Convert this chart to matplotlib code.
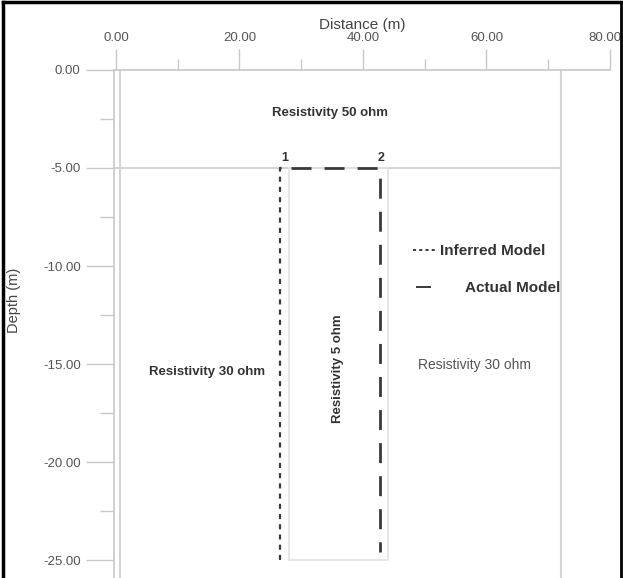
import matplotlib
matplotlib.use("Agg")
import matplotlib.pyplot as plt
from matplotlib.lines import Line2D
from matplotlib.transforms import ScaledTranslation

plt.rcParams['font.family'] = ['Liberation Sans', 'DejaVu Sans']

# ---- data ----
x_ticks = [0, 20, 40, 60, 80]
x_tick_labels = ["0.00", "20.00", "40.00", "60.00", "80.00"]
y_ticks = [0, -5, -10, -15, -20, -25]
y_tick_labels = ["0.00", "-5.00", "-10.00", "-15.00", "-20.00", "-25.00"]

inferred_x = [26.6, 26.6, 27.6]
inferred_depth = [-25.0, -5.0, -5.0]
actual_x = [28.4, 42.8, 42.8]
actual_depth = [-5.0, -5.0, -24.6]

block_x = [28.0, 44.0, 44.0, 28.0, 28.0]
block_depth = [-5.0, -5.0, -25.0, -25.0, -5.0]

layer_line_x = [-0.3, 72.0]
layer_line_depth = [-5.0, -5.0]
model_left_x = [0.6, 0.6]
model_right_x = [72.0, 72.0]
model_edge_depth = [0.0, -26.0]

labels = [
    ("Resistivity 50 ohm", 34.7, -2.2, 0, "bold", "#333333", 9.5),
    ("Resistivity 30 ohm", 14.7, -15.4, 0, "bold", "#333333", 9.5),
    ("Resistivity 30 ohm", 58.1, -15.05, 0, "normal", "#555555", 10),
    ("Resistivity 5 ohm", 36.0, -15.25, 90, "bold", "#333333", 9.5),
    ("1", 27.4, -4.5, 0, "bold", "#333333", 9),
    ("2", 42.9, -4.5, 0, "bold", "#333333", 9),
]

W, H = 623, 578
fig = plt.figure(figsize=(W / 100, H / 100), dpi=100)
fig.patch.set_facecolor("white")
AX_L, AX_R, AX_T = 114, 610, 70
ax = fig.add_axes([AX_L / W, 0.0, (AX_R - AX_L) / W, 1 - AX_T / H])

ax.set_xlim(-0.32, 80)
ax.set_ylim(-(H - AX_T) / 19.6, 0)

grid_col = "#d4d4d4"
ax.plot(model_left_x, model_edge_depth, color=grid_col, lw=1.5, zorder=1)
ax.plot(model_right_x, model_edge_depth, color=grid_col, lw=1.5, zorder=1)
ax.plot(layer_line_x, layer_line_depth, color=grid_col, lw=1.5, zorder=1)
ax.plot(block_x, block_depth, color="#e2e2e2", lw=1.2, zorder=1)

inf_line, = ax.plot(inferred_x, inferred_depth, color="#3a3a3a", lw=1.6,
                    dashes=(2.3, 2.3), zorder=3, label="Inferred Model")
act_line, = ax.plot(actual_x, actual_depth, color="#3a3a3a", lw=2.0,
                    dashes=(7.2, 4.7), zorder=3, label="Actual Model")

for txt, x, y, rot, wt, col, fs in labels:
    ax.text(x, y, txt, rotation=rot, fontsize=fs, fontweight=wt, color=col,
            ha="center", va="center", zorder=4)


def ax_frac(px, py):
    return ((px - AX_L) / (AX_R - AX_L), 1 - (py - AX_T) / (H - AX_T))


leg1 = ax.legend(handles=[inf_line], loc="center left",
                 bbox_to_anchor=ax_frac(413, 251),
                 frameon=False, fontsize=11, handlelength=1.6,
                 handletextpad=0.15, borderpad=0, borderaxespad=0)
ax.add_artist(leg1)
leg2 = ax.legend(handles=[act_line], loc="center left",
                 bbox_to_anchor=ax_frac(416, 288),
                 frameon=False, fontsize=11, handlelength=1.0,
                 handletextpad=2.2, borderpad=0, borderaxespad=0)
for lg in (leg1, leg2):
    for t in lg.get_texts():
        t.set_fontweight("bold")
        t.set_color("#333333")
leg1.legend_handles[0].set_dashes((1.6, 1.6))
leg1.legend_handles[0].set_linewidth(1.4)
leg2.legend_handles[0].set_dashes((1, 0))
leg2.legend_handles[0].set_linewidth(1.4)

ax.xaxis.tick_top()
ax.xaxis.set_label_position("top")
ax.set_xticks(x_ticks)
ax.set_xticklabels(x_tick_labels)
ax.set_xticks([10, 30, 50, 70], minor=True)
ax.set_yticks(y_ticks)
ax.set_yticklabels(y_tick_labels)
ax.set_yticks([-2.5, -7.5, -12.5, -17.5, -22.5], minor=True)

tick_col = "#c8c8c8"
ax.tick_params(axis="x", which="major", length=15, width=1, color=tick_col,
               labelsize=9.5, labelcolor="#555555", pad=4)
ax.tick_params(axis="x", which="minor", length=8, width=1, color=tick_col)
ax.tick_params(axis="y", which="major", length=20, width=1, color=tick_col,
               labelsize=9.5, labelcolor="#555555", pad=4)
ax.tick_params(axis="y", which="minor", length=10, width=1, color=tick_col)

# keep the last top tick label inside the frame
last_tick = ax.xaxis.get_major_ticks()[-1]
last_tick.label2.set_transform(last_tick.label2.get_transform()
                               + ScaledTranslation(-4 / 72, 0, fig.dpi_scale_trans))

for s in ["right", "bottom"]:
    ax.spines[s].set_visible(False)
for s in ["top", "left"]:
    ax.spines[s].set_color(tick_col)
    ax.spines[s].set_linewidth(1.2)

ax.set_xlabel("Distance (m)", fontsize=11, color="#444444", labelpad=2)
ax.set_ylabel("Depth (m)", fontsize=10.5, color="#444444")
ax.yaxis.set_label_coords(*ax_frac(21, 300))

# figure frame (left, top, right)
fig.add_artist(Line2D([3 / W, 3 / W], [0, 1 - 2 / H], transform=fig.transFigure,
                      color="black", lw=2.5))
fig.add_artist(Line2D([3 / W, 621 / W], [1 - 2 / H, 1 - 2 / H], transform=fig.transFigure,
                      color="black", lw=2.5))
fig.add_artist(Line2D([621 / W, 621 / W], [0, 1 - 2 / H], transform=fig.transFigure,
                      color="black", lw=2.0))

fig.savefig("out.png", dpi=100)
